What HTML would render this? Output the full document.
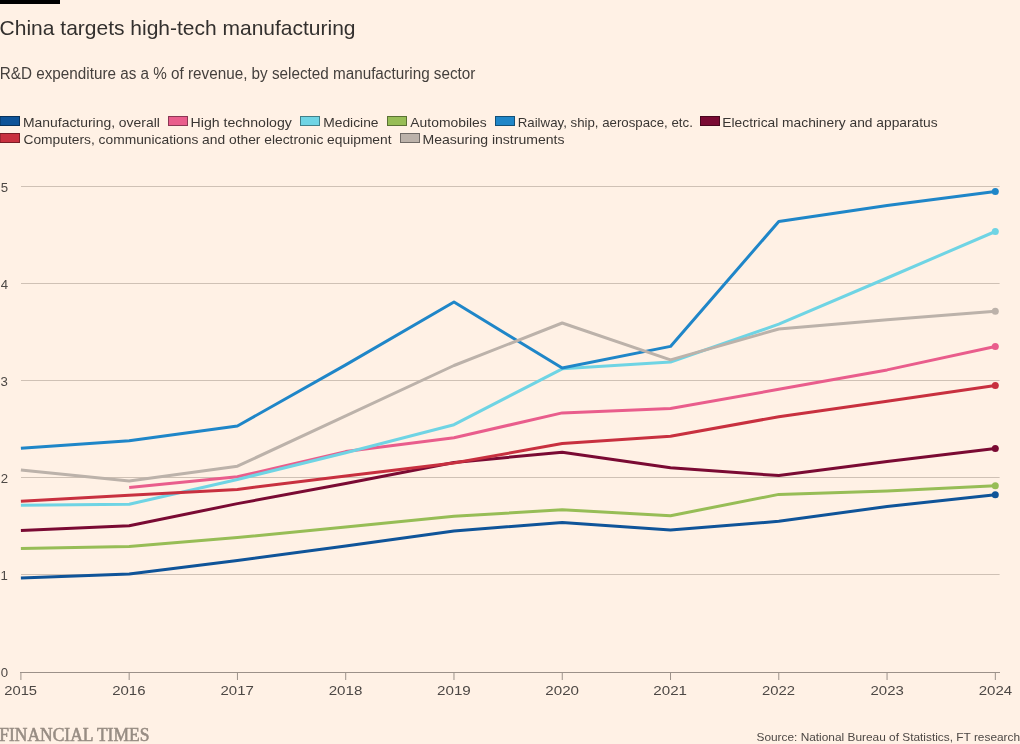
<!DOCTYPE html>
<html><head><meta charset="utf-8"><style>
html,body{margin:0;padding:0}
body{width:1020px;height:744px;background:#fff1e5;overflow:hidden}
svg{display:block;will-change:transform}
</style></head><body>
<svg width="1020" height="744" viewBox="0 0 1020 744">
<line x1="21" x2="999.6" y1="574.5" y2="574.5" stroke="#cfc1b5" stroke-width="1"/>
<line x1="21" x2="999.6" y1="477.5" y2="477.5" stroke="#cfc1b5" stroke-width="1"/>
<line x1="21" x2="999.6" y1="380.5" y2="380.5" stroke="#cfc1b5" stroke-width="1"/>
<line x1="21" x2="999.6" y1="283.5" y2="283.5" stroke="#cfc1b5" stroke-width="1"/>
<line x1="21" x2="999.6" y1="186.5" y2="186.5" stroke="#cfc1b5" stroke-width="1"/>
<line x1="20" x2="1000" y1="672.5" y2="672.5" stroke="#9c9189" stroke-width="1"/>
<line x1="20.9" x2="20.9" y1="672" y2="680" stroke="#9c9189" stroke-width="1"/>
<line x1="129.17" x2="129.17" y1="672" y2="680" stroke="#9c9189" stroke-width="1"/>
<line x1="237.44" x2="237.44" y1="672" y2="680" stroke="#9c9189" stroke-width="1"/>
<line x1="345.71" x2="345.71" y1="672" y2="680" stroke="#9c9189" stroke-width="1"/>
<line x1="453.98" x2="453.98" y1="672" y2="680" stroke="#9c9189" stroke-width="1"/>
<line x1="562.25" x2="562.25" y1="672" y2="680" stroke="#9c9189" stroke-width="1"/>
<line x1="670.52" x2="670.52" y1="672" y2="680" stroke="#9c9189" stroke-width="1"/>
<line x1="778.79" x2="778.79" y1="672" y2="680" stroke="#9c9189" stroke-width="1"/>
<line x1="887.06" x2="887.06" y1="672" y2="680" stroke="#9c9189" stroke-width="1"/>
<line x1="995.33" x2="995.33" y1="672" y2="680" stroke="#9c9189" stroke-width="1"/>
<polyline points="20.9,577.9 129.2,574.1 237.4,560.5 345.7,546 454.0,531 562.2,522.5 670.5,530 778.8,521.3 887.1,506.5 995.3,494.8" fill="none" stroke="#0f5499" stroke-width="3" stroke-linejoin="round"/>
<polyline points="129.2,487.5 237.4,476.8 345.7,451.6 454.0,437.8 562.2,412.9 670.5,408.6 778.8,389.3 887.1,369.9 995.3,346.5" fill="none" stroke="#e95d8c" stroke-width="3" stroke-linejoin="round"/>
<polyline points="20.9,505.2 129.2,504.2 237.4,479.5 345.7,452.8 454.0,424.7 562.2,368.8 670.5,362 778.8,324.2 887.1,278 995.3,231.5" fill="none" stroke="#6fd4e4" stroke-width="3" stroke-linejoin="round"/>
<polyline points="20.9,548.6 129.2,546.5 237.4,537.6 345.7,526.9 454.0,516.2 562.2,509.8 670.5,515.7 778.8,494.4 887.1,491 995.3,485.8" fill="none" stroke="#97bd56" stroke-width="3" stroke-linejoin="round"/>
<polyline points="20.9,448.3 129.2,440.7 237.4,426 345.7,364.9 454.0,302 562.2,368 670.5,346.4 778.8,221.5 887.1,205.4 995.3,191.5" fill="none" stroke="#1f86c8" stroke-width="3" stroke-linejoin="round"/>
<polyline points="20.9,530.4 129.2,525.8 237.4,503.6 345.7,483.6 454.0,462.5 562.2,452.2 670.5,467.8 778.8,475.6 887.1,461.6 995.3,448.4" fill="none" stroke="#7a0a33" stroke-width="3" stroke-linejoin="round"/>
<polyline points="20.9,501.3 129.2,495.3 237.4,489.4 345.7,475.9 454.0,463 562.2,443.6 670.5,436.3 778.8,416.7 887.1,401.2 995.3,385.5" fill="none" stroke="#c8303f" stroke-width="3" stroke-linejoin="round"/>
<polyline points="20.9,470.1 129.2,481 237.4,466.2 345.7,415.9 454.0,365.5 562.2,323 670.5,359.9 778.8,329 887.1,319.7 995.3,311.3" fill="none" stroke="#bcb2aa" stroke-width="3" stroke-linejoin="round"/>
<circle cx="995.3" cy="494.8" r="3.5" fill="#0f5499"/>
<circle cx="995.3" cy="346.5" r="3.5" fill="#e95d8c"/>
<circle cx="995.3" cy="231.5" r="3.5" fill="#6fd4e4"/>
<circle cx="995.3" cy="485.8" r="3.5" fill="#97bd56"/>
<circle cx="995.3" cy="191.5" r="3.5" fill="#1f86c8"/>
<circle cx="995.3" cy="448.4" r="3.5" fill="#7a0a33"/>
<circle cx="995.3" cy="385.5" r="3.5" fill="#c8303f"/>
<circle cx="995.3" cy="311.3" r="3.5" fill="#bcb2aa"/>
<rect x="0" y="116.5" width="19.5" height="9" fill="#0f5499" stroke="#09325b" stroke-width="1"/>
<rect x="168.5" y="116.5" width="19" height="9" fill="#e95d8c" stroke="#8b3754" stroke-width="1"/>
<rect x="300.5" y="116.5" width="19" height="9" fill="#6fd4e4" stroke="#427f88" stroke-width="1"/>
<rect x="387.5" y="116.5" width="19" height="9" fill="#97bd56" stroke="#5a7133" stroke-width="1"/>
<rect x="495.5" y="116.5" width="19" height="9" fill="#1f86c8" stroke="#125078" stroke-width="1"/>
<rect x="700.5" y="116.5" width="19" height="9" fill="#7a0a33" stroke="#49061e" stroke-width="1"/>
<rect x="0" y="133.5" width="19.5" height="9" fill="#c8303f" stroke="#781c25" stroke-width="1"/>
<rect x="400.5" y="133.5" width="19" height="9" fill="#bcb2aa" stroke="#706a66" stroke-width="1"/>
<rect x="0" y="0" width="60" height="4" fill="#000"/>
<text x="-0.40" y="34.7" font-family="Liberation Sans" font-size="21" fill="#33302e"  textLength="355.95" lengthAdjust="spacingAndGlyphs">China targets high-tech manufacturing</text>
<text x="-0.18" y="78.9" font-family="Liberation Sans" font-size="15.8" fill="#45403d"  textLength="475.57" lengthAdjust="spacingAndGlyphs">R&amp;D expenditure as a % of revenue, by selected manufacturing sector</text>
<text x="22.97" y="126.75" font-family="Liberation Sans" font-size="13" fill="#3a3633"  textLength="136.89" lengthAdjust="spacingAndGlyphs">Manufacturing, overall</text>
<text x="190.57" y="126.75" font-family="Liberation Sans" font-size="13" fill="#3a3633"  textLength="101.25" lengthAdjust="spacingAndGlyphs">High technology</text>
<text x="323.20" y="126.75" font-family="Liberation Sans" font-size="13" fill="#3a3633"  textLength="55.34" lengthAdjust="spacingAndGlyphs">Medicine</text>
<text x="410.37" y="126.75" font-family="Liberation Sans" font-size="13" fill="#3a3633"  textLength="76.37" lengthAdjust="spacingAndGlyphs">Automobiles</text>
<text x="517.72" y="126.75" font-family="Liberation Sans" font-size="13" fill="#3a3633"  textLength="175.11" lengthAdjust="spacingAndGlyphs">Railway, ship, aerospace, etc.</text>
<text x="722.37" y="126.75" font-family="Liberation Sans" font-size="13" fill="#3a3633"  textLength="215.29" lengthAdjust="spacingAndGlyphs">Electrical machinery and apparatus</text>
<text x="23.47" y="143.8" font-family="Liberation Sans" font-size="13" fill="#3a3633"  textLength="368.08" lengthAdjust="spacingAndGlyphs">Computers, communications and other electronic equipment</text>
<text x="422.46" y="143.8" font-family="Liberation Sans" font-size="13" fill="#3a3633"  textLength="142.04" lengthAdjust="spacingAndGlyphs">Measuring instruments</text>
<text x="-0.77" y="740.7" stroke="#978c83" stroke-width="0.55" font-family="Liberation Serif" font-size="17.8" fill="#978c83"  textLength="150.17" lengthAdjust="spacingAndGlyphs">FINANCIAL TIMES</text>
<text x="756.48" y="741.0" font-family="Liberation Sans" font-size="11.5" fill="#4d4845"  textLength="263.60" lengthAdjust="spacingAndGlyphs">Source: National Bureau of Statistics, FT research</text>
<text x="4.26" y="694.9" font-family="Liberation Sans" font-size="12.5" fill="#4d4845"  textLength="32.83" lengthAdjust="spacingAndGlyphs">2015</text>
<text x="112.21" y="694.9" font-family="Liberation Sans" font-size="12.5" fill="#4d4845"  textLength="33.29" lengthAdjust="spacingAndGlyphs">2016</text>
<text x="220.54" y="694.9" font-family="Liberation Sans" font-size="12.5" fill="#4d4845"  textLength="33.32" lengthAdjust="spacingAndGlyphs">2017</text>
<text x="328.67" y="694.9" font-family="Liberation Sans" font-size="12.5" fill="#4d4845"  textLength="33.69" lengthAdjust="spacingAndGlyphs">2018</text>
<text x="437.00" y="694.9" font-family="Liberation Sans" font-size="12.5" fill="#4d4845"  textLength="33.77" lengthAdjust="spacingAndGlyphs">2019</text>
<text x="545.34" y="694.9" font-family="Liberation Sans" font-size="12.5" fill="#4d4845"  textLength="33.67" lengthAdjust="spacingAndGlyphs">2020</text>
<text x="653.34" y="694.9" font-family="Liberation Sans" font-size="12.5" fill="#4d4845"  textLength="33.64" lengthAdjust="spacingAndGlyphs">2021</text>
<text x="761.95" y="694.9" font-family="Liberation Sans" font-size="12.5" fill="#4d4845"  textLength="33.01" lengthAdjust="spacingAndGlyphs">2022</text>
<text x="870.54" y="694.9" font-family="Liberation Sans" font-size="12.5" fill="#4d4845"  textLength="33.30" lengthAdjust="spacingAndGlyphs">2023</text>
<text x="978.70" y="694.9" font-family="Liberation Sans" font-size="12.5" fill="#4d4845"  textLength="33.48" lengthAdjust="spacingAndGlyphs">2024</text>
<text x="0.70" y="676.8" font-family="Liberation Sans" font-size="13.2" fill="#4d4845" >0</text>
<text x="0.61" y="579.9" font-family="Liberation Sans" font-size="13.2" fill="#4d4845" >1</text>
<text x="0.63" y="482.9" font-family="Liberation Sans" font-size="13.2" fill="#4d4845" >2</text>
<text x="0.56" y="385.9" font-family="Liberation Sans" font-size="13.2" fill="#4d4845" >3</text>
<text x="0.82" y="288.9" font-family="Liberation Sans" font-size="13.2" fill="#4d4845" >4</text>
<text x="0.63" y="191.9" font-family="Liberation Sans" font-size="13.2" fill="#4d4845" >5</text>
</svg>
</body></html>
